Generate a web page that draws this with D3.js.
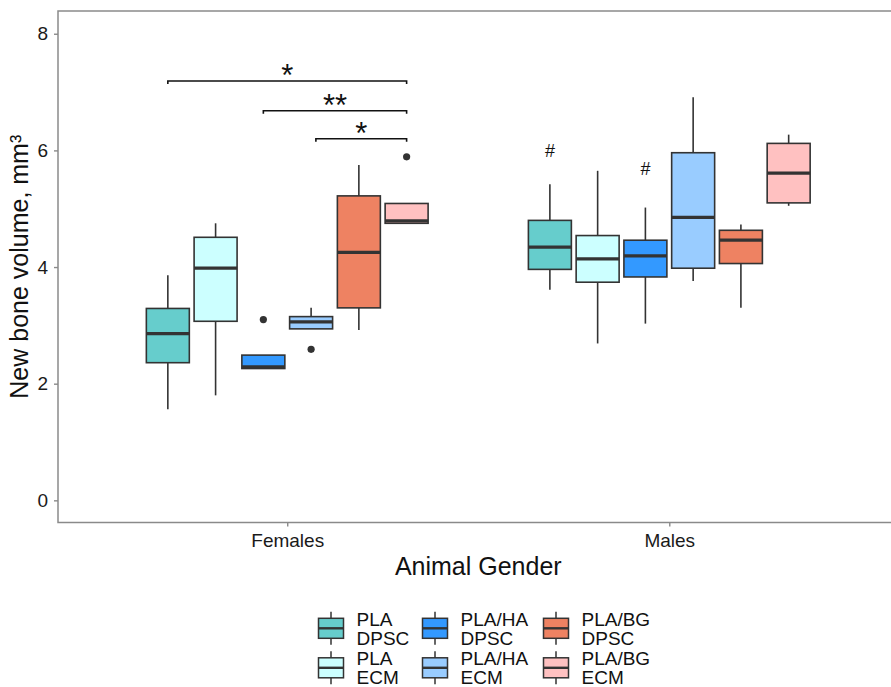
<!DOCTYPE html>
<html>
<head>
<meta charset="utf-8">
<script src="https://cdn.jsdelivr.net/npm/d3@7"></script>
<style>
  html, body { margin: 0; padding: 0; background: #fff; }
  svg { display: block; font-family: "Liberation Sans", Arial, sans-serif; }
</style>
</head>
<body>
<svg id="chart" width="891" height="687"></svg>
<script>
// ---------------- data ----------------
const genders = ["Females", "Males"];
const treatments = ["PLA DPSC", "PLA ECM", "PLA/HA DPSC", "PLA/HA ECM", "PLA/BG DPSC", "PLA/BG ECM"];
const legendLines = [["PLA", "DPSC"], ["PLA", "ECM"], ["PLA/HA", "DPSC"], ["PLA/HA", "ECM"], ["PLA/BG", "DPSC"], ["PLA/BG", "ECM"]];
const fillColors = ["#66CDCC", "#CCFFFF", "#3399FF", "#99CCFF", "#EE8262", "#FFC1C1"];

// box statistics per treatment: [lower whisker, Q1, median, Q3, upper whisker]
const femalesStats = [
  [1.56, 2.36, 2.86, 3.29, 3.86],
  [1.80, 3.07, 3.98, 4.51, 4.75],
  [2.26, 2.26, 2.29, 2.49, 2.49],
  [2.94, 2.94, 3.06, 3.15, 3.30],
  [2.92, 3.30, 4.25, 5.22, 5.75],
  [4.75, 4.75, 4.79, 5.09, 5.09]
];
const malesStats = [
  [3.61, 3.96, 4.34, 4.80, 5.42],
  [2.69, 3.74, 4.14, 4.54, 5.65],
  [3.03, 3.83, 4.19, 4.46, 5.02],
  [3.76, 3.98, 4.85, 5.96, 6.91],
  [3.30, 4.06, 4.46, 4.63, 4.73],
  [5.05, 5.10, 5.61, 6.12, 6.27]
];
// outliers: [gender index, treatment index, value]
const outliers = [
  [0, 2, 3.10],
  [0, 3, 2.59],
  [0, 5, 5.89]
];
// significance brackets (x in axis units, y in data units)
const bracketStart = [0.6875, 0.9375, 1.075];
const bracketEnd = [1.3125, 1.3125, 1.3125];
const bracketY = [7.19, 6.68, 6.20];
const bracketLabels = ["*", "**", "*"];
// '#' marks: [gender index, treatment index, y]
const hashMarks = [[1, 0, 6.0], [1, 2, 5.69]];

const yTicks = [0, 2, 4, 6, 8];
const yTitle = "New bone volume, mm³";
const xTitle = "Animal Gender";

// ---------------- layout ----------------
const svg = d3.select("#chart");
const panel = { left: 58, right: 898.5, top: 11, bottom: 522.5 };
const x = d3.scaleLinear().domain([0.4, 2.6]).range([panel.left, panel.right]);
const y = d3.scaleLinear().domain([-0.38, 8.39]).range([panel.bottom, panel.top]);
const dodge = 0.125, boxW = 0.1125;
const stroke = "#333333";
const allStats = [femalesStats, malesStats];

const cx = (g, t) => x(g + 1 + (t - 2.5) * dodge);

// panel border
svg.append("rect")
  .attr("x", panel.left).attr("y", panel.top)
  .attr("width", panel.right - panel.left).attr("height", panel.bottom - panel.top)
  .attr("fill", "none").attr("stroke", "#8a8a8a").attr("stroke-width", 1.5);

// axes
const yAxis = svg.append("g").attr("transform", `translate(${panel.left},0)`)
  .call(d3.axisLeft(y).tickValues(yTicks).tickSize(4).tickPadding(6).tickFormat(d3.format("d")));
const xAxis = svg.append("g").attr("transform", `translate(0,${panel.bottom})`)
  .call(d3.axisBottom(x).tickValues([1, 2]).tickSize(4).tickPadding(7).tickFormat(d => genders[d - 1]));
[yAxis, xAxis].forEach(a => {
  a.select(".domain").remove();
  a.selectAll(".tick line").attr("stroke", "#8a8a8a").attr("stroke-width", 1.4);
  a.selectAll(".tick text").attr("fill", "#1a1a1a").style("font-size", "19px")
    .style("font-family", '"Liberation Sans", Arial, sans-serif');
});

// boxes
allStats.forEach((stats, g) => {
  stats.forEach((s, t) => {
    const c = cx(g, t);
    const half = (x(boxW) - x(0)) / 2;
    const grp = svg.append("g");
    grp.append("line").attr("x1", c).attr("x2", c).attr("y1", y(s[3])).attr("y2", y(s[4]))
      .attr("stroke", stroke).attr("stroke-width", 1.6);
    grp.append("line").attr("x1", c).attr("x2", c).attr("y1", y(s[1])).attr("y2", y(s[0]))
      .attr("stroke", stroke).attr("stroke-width", 1.6);
    grp.append("rect").attr("x", c - half).attr("width", 2 * half)
      .attr("y", y(s[3])).attr("height", Math.max(0.5, y(s[1]) - y(s[3])))
      .attr("fill", fillColors[t]).attr("stroke", stroke).attr("stroke-width", 1.6);
    grp.append("line").attr("x1", c - half).attr("x2", c + half).attr("y1", y(s[2])).attr("y2", y(s[2]))
      .attr("stroke", stroke).attr("stroke-width", 3.2);
  });
});

// outliers
svg.selectAll("circle.out").data(outliers).enter().append("circle")
  .attr("class", "out")
  .attr("cx", d => cx(d[0], d[1])).attr("cy", d => y(d[2])).attr("r", 3.6)
  .attr("fill", stroke);

// brackets
bracketY.forEach((by, i) => {
  const x1 = x(bracketStart[i]), x2 = x(bracketEnd[i]), yy = y(by), tip = 3;
  svg.append("path")
    .attr("d", `M${x1},${yy + tip}V${yy}H${x2}V${yy + tip}`)
    .attr("fill", "none").attr("stroke", "#111").attr("stroke-width", 1.6);
  svg.append("text")
    .attr("x", (x1 + x2) / 2).attr("y", yy + 5)
    .attr("text-anchor", "middle").style("font-size", "31px").attr("fill", "#111")
    .text(bracketLabels[i]);
});

// hash marks
hashMarks.forEach(h => {
  svg.append("text")
    .attr("x", cx(h[0], h[1])).attr("y", y(h[2]) + 6.5)
    .attr("text-anchor", "middle").style("font-size", "18px").attr("fill", "#111")
    .text("#");
});

// axis titles
svg.append("text").attr("x", (panel.left + panel.right) / 2).attr("y", 575)
  .attr("text-anchor", "middle").style("font-size", "25px").attr("fill", "#111")
  .text(xTitle);
svg.append("text").attr("transform", `translate(28,${(panel.top + panel.bottom) / 2}) rotate(-90)`)
  .attr("text-anchor", "middle").style("font-size", "25px").attr("fill", "#111")
  .text(yTitle);

// legend
const legendColX = [318.5, 422.5, 543.5];
const legendRowY = [618.3, 657.8];
treatments.forEach((tr, i) => {
  const col = Math.floor(i / 2), row = i % 2;
  const lx = legendColX[col], ly = legendRowY[row];
  const kw = 25, kh = 20, kc = lx + kw / 2;
  const g = svg.append("g");
  g.append("line").attr("x1", kc).attr("x2", kc).attr("y1", ly - 6.5).attr("y2", ly + kh + 6.5)
    .attr("stroke", stroke).attr("stroke-width", 1.5);
  g.append("rect").attr("x", lx).attr("y", ly).attr("width", kw).attr("height", kh)
    .attr("fill", fillColors[i]).attr("stroke", stroke).attr("stroke-width", 1.5);
  g.append("line").attr("x1", lx).attr("x2", lx + kw).attr("y1", ly + kh / 2).attr("y2", ly + kh / 2)
    .attr("stroke", stroke).attr("stroke-width", 2.4);
  legendLines[i].forEach((ln, k) => {
    g.append("text").attr("x", lx + 38).attr("y", ly + 7.5 + k * 19)
      .style("font-size", "19px").attr("fill", "#111").text(ln);
  });
});
</script>
</body>
</html>
